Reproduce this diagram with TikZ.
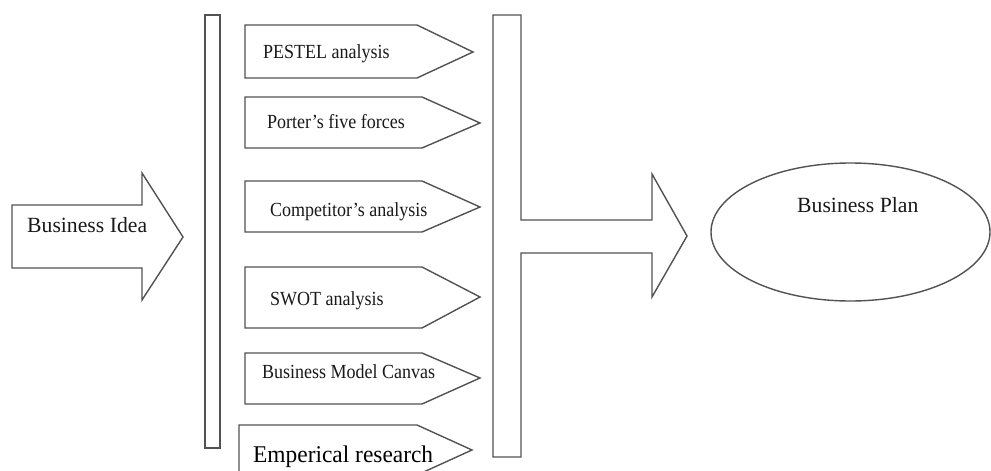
\documentclass[tikz,border=0pt]{standalone}
\usepackage{fontspec}
\usepackage{graphicx}
\setmainfont{Liberation Serif}
% slightly condensed lettering for the tool labels
\newcommand{\narrowtext}[1]{\scalebox{0.9}[1]{#1}}
\begin{document}
\begin{tikzpicture}[x=1pt,y=-1pt,
  outline/.style={draw=black!68,line width=1.4pt,line join=miter},
  lbl/.style={anchor=base west,inner sep=0pt,text=black!90},
  small/.style={lbl,font=\fontsize{20}{22}\selectfont},
  big/.style={lbl,font=\fontsize{21.7}{24}\selectfont}]
\useasboundingbox (0,0) rectangle (991,471);
\clip (0,0) rectangle (991,471);

% input arrow
\draw[outline] (12,205) -- (142,205) -- (142,173) -- (183,237) -- (142,300)
  -- (142,268) -- (12,268) -- cycle;
\node[big] (idea) at (27,232) {Business Idea};

% left collecting bar
\draw[outline] (205,15) rectangle (220,448);

% analysis tools
\draw[outline] (245,25) -- (417,25) -- (473,52) -- (417,78) -- (245,78) -- cycle;
\node[small] (pestel) at (263,58) {\narrowtext{PESTEL analysis}};

\draw[outline] (245,97) -- (422,97) -- (480,123) -- (422,148) -- (245,148) -- cycle;
\node[small] (porter) at (267,128) {\narrowtext{Porter's five forces}};

\draw[outline] (245,181) -- (422,181) -- (480,207) -- (422,232) -- (245,232) -- cycle;
\node[small] (comp) at (270,216) {\narrowtext{Competitor's analysis}};

\draw[outline] (245,267) -- (422,267) -- (480,297) -- (422,328) -- (245,328) -- cycle;
\node[small] (swot) at (270,305) {\narrowtext{SWOT analysis}};

\draw[outline] (245,353) -- (422,353) -- (480,378) -- (422,404) -- (245,404) -- cycle;
\node[small] (bmc) at (262,378) {\narrowtext{Business Model Canvas}};

\draw[outline] (239,425) -- (417,425) -- (472,450) -- (417,475) -- (239,475) -- cycle;
\node[lbl,font=\fontsize{24}{26}\selectfont,text=black] (emp) at (253,462)
  {\scalebox{0.975}[1]{Emperical research}};

% right bar merging into the output arrow
\draw[outline] (493,15) -- (521,15) -- (521,220) -- (652,220) -- (652,174)
  -- (687,236) -- (652,297) -- (652,253) -- (521,253) -- (521,457)
  -- (493,457) -- cycle;

% result
\draw[outline] (850.5,232) ellipse [x radius=139.5,y radius=69];
\node[big] (plan) at (797,212) {Business Plan};
\end{tikzpicture}
\end{document}
